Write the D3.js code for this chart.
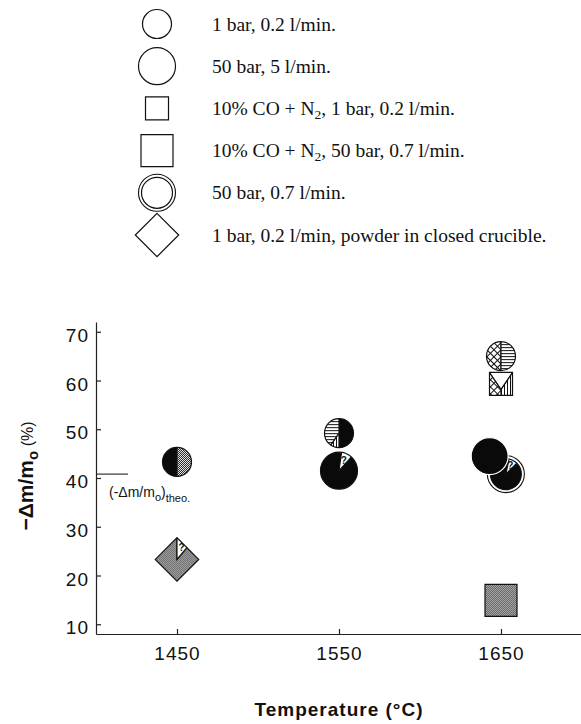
<!DOCTYPE html>
<html>
<head>
<meta charset="utf-8">
<title>Mass loss vs temperature</title>
<script src="https://d3js.org/d3.v7.min.js"></script>
<style>
  body { margin: 0; background: #fff; }
  text { font-family: "Liberation Sans", Arial, sans-serif; fill: #111; }
  .serif { font-family: "Liberation Serif", "Times New Roman", serif; }
</style>
</head>
<body>
<div id="chart"></div>
<script>

// legend (experimental conditions)
var legendLabels = [
  "1 bar, 0.2 l/min.",
  "50 bar, 5 l/min.",
  "10% CO + N|2|, 1 bar, 0.2 l/min.",
  "10% CO + N|2|, 50 bar, 0.7 l/min.",
  "50 bar, 0.7 l/min.",
  "1 bar, 0.2 l/min, powder in closed crucible."
];
var legendShapes = ["circle", "bigcircle", "square", "bigsquare", "ring", "diamond"];

var pointTemp   = [1450, 1450, 1550, 1550, 1650, 1650, 1653, 1643, 1650];
var pointValue  = [43.3, 23.3, 49.2, 41.5, 65.0, 59.3, 40.8, 44.5, 14.9];
var pointSeries = [0, 5, 0, 1, 0, 2, 4, 1, 3];

// theoretical mass loss
var theoValue = 40.8;

// axis ticks
var xTicks = [1450, 1550, 1650];
var yTicks = [10, 20, 30, 40, 50, 60, 70];

// how each symbol is filled (sectors in degrees, clockwise from top)
var pointFills = [
  {parts: [{a: [180, 360], f: "black"}, {a: [0, 180], f: "stipple"}]},
  {parts: [{a: [40, 360], f: "stipple"}, {a: [0, 40], f: "white", q: true}]},
  {parts: [{a: [0, 180], f: "black"}, {a: [180, 215], f: "vlines"}, {a: [215, 360], f: "hlines"}]},
  {parts: [{a: [42, 368], f: "black"}, {a: [8, 42], f: "white", q: true}]},
  {parts: [{a: [180, 360], f: "xhatch"}, {a: [0, 180], f: "hlines"}]},
  {oy: 0.5, parts: [{a: [-34, 34], f: "white"}, {a: [34, 180], f: "vlines"}, {a: [180, 326], f: "xhatch"}]},
  {parts: [{a: [45, 375], f: "black"}, {a: [12, 45], f: "white", q: true}]},
  {parts: [{a: [0, 360], f: "black"}], edge: "#fff"},
  {parts: [{a: [0, 360], f: "stipple"}]}
];

var shapeSize = {circle: 14.5, bigcircle: 18.5, square: 11.5, bigsquare: 16, ring: 18.5, diamond: 21.7};

var w = 581, h = 724;
var margin = {left: 96, right: 0, top: 322, bottom: 90};

var svg = d3.select("#chart").append("svg")
    .attr("width", w)
    .attr("height", h);

var defs = svg.append("defs");

// fill patterns
var stip = defs.append("pattern").attr("id", "stipple")
    .attr("patternUnits", "userSpaceOnUse").attr("width", 2).attr("height", 2);
stip.append("rect").attr("width", 2).attr("height", 2).attr("fill", "#f4f4f4");
stip.append("rect").attr("width", 1).attr("height", 1).attr("fill", "#1a1a1a");
stip.append("rect").attr("x", 1).attr("y", 1).attr("width", 1).attr("height", 1).attr("fill", "#1a1a1a");

var hl = defs.append("pattern").attr("id", "hlines")
    .attr("patternUnits", "userSpaceOnUse").attr("width", 3).attr("height", 3);
hl.append("rect").attr("width", 3).attr("height", 3).attr("fill", "#fff");
hl.append("rect").attr("width", 3).attr("height", 1).attr("fill", "#111");

var vl = defs.append("pattern").attr("id", "vlines")
    .attr("patternUnits", "userSpaceOnUse").attr("width", 3).attr("height", 3);
vl.append("rect").attr("width", 3).attr("height", 3).attr("fill", "#fff");
vl.append("rect").attr("width", 1).attr("height", 3).attr("fill", "#111");

var xh = defs.append("pattern").attr("id", "xhatch")
    .attr("patternUnits", "userSpaceOnUse").attr("width", 5).attr("height", 5)
    .attr("patternTransform", "rotate(45)");
xh.append("rect").attr("width", 5).attr("height", 5).attr("fill", "#fff");
xh.append("rect").attr("width", 5).attr("height", 1).attr("fill", "#111");
xh.append("rect").attr("width", 1).attr("height", 5).attr("fill", "#111");

function fillOf(f) {
  if (f == "black") return "#0a0a0a";
  if (f == "white") return "#fff";
  return "url(#" + f + ")";
}

function shapePath(type, s) {
  if (type == "square" || type == "bigsquare")
    return "M" + (-s) + "," + (-s) + "H" + s + "V" + s + "H" + (-s) + "Z";
  if (type == "diamond")
    return "M0," + (-s) + "L" + s + ",0L0," + s + "L" + (-s) + ",0Z";
  return "M" + s + ",0A" + s + "," + s + " 0 1,1 " + (-s) + ",0A" + s + "," + s + " 0 1,1 " + s + ",0Z";
}

var clipId = 0;
function drawMarker(g, type, fill) {
  var s = shapeSize[type];
  var inner = s;
  if (type == "ring") {
    g.append("path").attr("d", shapePath("circle", s))
      .attr("fill", "#fff").attr("stroke", "#111").attr("stroke-width", 1.1);
    inner = s - 3;
  }
  var body = type == "ring" ? "circle" : type;
  if (fill) {
    var id = "clip" + (clipId++);
    defs.append("clipPath").attr("id", id)
      .append("path").attr("d", shapePath(body, inner));
    var cg = g.append("g").attr("clip-path", "url(#" + id + ")");
    var oy = (fill.oy || 0) * inner;
    fill.parts.forEach(function(p) {
      var arc = d3.arc().innerRadius(0).outerRadius(inner * 3)
        .startAngle(p.a[0] * Math.PI / 180).endAngle(p.a[1] * Math.PI / 180);
      cg.append("path").attr("d", arc())
        .attr("transform", "translate(0," + oy + ")")
        .attr("fill", fillOf(p.f))
        .attr("stroke", p.a[1] - p.a[0] >= 360 ? "none" : "#111")
        .attr("stroke-width", 1.2);
      if (p.q) {
        var mid = (p.a[0] + p.a[1]) / 2 * Math.PI / 180;
        cg.append("text")
          .attr("x", Math.sin(mid) * inner * 0.6)
          .attr("y", -Math.cos(mid) * inner * 0.6 + oy)
          .attr("dy", "0.35em")
          .attr("text-anchor", "middle")
          .style("font-size", "10px")
          .style("font-weight", "bold")
          .text("?");
      }
    });
  }
  g.append("path").attr("d", shapePath(body, inner))
    .attr("fill", fill ? "none" : "#fff")
    .attr("stroke", fill && fill.edge ? fill.edge : "#111")
    .attr("stroke-width", 1.2);
}

// ---- legend ----
var legendY = d3.scaleLinear().domain([0, 5]).range([24, 235]);

legendLabels.forEach(function(label, i) {
  var g = svg.append("g").attr("transform", "translate(157," + legendY(i) + ")");
  drawMarker(g, legendShapes[i], null);
  var t = svg.append("text").attr("class", "serif")
    .attr("x", 212).attr("y", legendY(i) + 6.5)
    .style("font-size", "19.5px");
  label.split("|").forEach(function(piece, k) {
    var ts = t.append("tspan").text(piece);
    if (k % 2 == 1) ts.attr("dy", 4).style("font-size", "13.5px");
    else if (k > 0) ts.attr("dy", -4);
  });
});

// ---- chart ----
var x = d3.scaleLinear()
    .domain([1400, 1700])
    .range([margin.left, w - margin.right + 1]);

var y = d3.scaleLinear()
    .domain([8, 72])
    .range([h - margin.bottom, margin.top]);

var xAxis = d3.axisBottom(x)
    .tickValues(xTicks)
    .tickSizeInner(-5)
    .tickSizeOuter(0)
    .tickPadding(13)
    .tickFormat(d3.format("d"));

var yAxis = d3.axisLeft(y)
    .tickValues(yTicks)
    .tickSizeInner(-5)
    .tickSizeOuter(0)
    .tickPadding(7);

var gx = svg.append("g")
    .attr("transform", "translate(0," + (h - margin.bottom) + ")")
    .call(xAxis);

var gy = svg.append("g")
    .attr("transform", "translate(" + margin.left + ",0)")
    .call(yAxis);

[gx, gy].forEach(function(a) {
  a.selectAll("path, line").attr("stroke", "#222").attr("stroke-width", 1.2);
  a.selectAll("text").style("font-size", "19px")
    .style("letter-spacing", "1px")
    .style("font-family", "'Liberation Sans', Arial, sans-serif").attr("fill", "#111");
});
gy.selectAll("text").attr("dy", "0.5em");

// theoretical value marker
svg.append("line")
  .attr("x1", margin.left).attr("x2", margin.left + 32)
  .attr("y1", y(theoValue)).attr("y2", y(theoValue))
  .attr("stroke", "#222").attr("stroke-width", 1.1);

var theo = svg.append("text")
  .attr("x", margin.left + 13).attr("y", y(theoValue) + 23)
  .style("font-size", "14px");
theo.append("tspan").text("(-\u0394m/m");
theo.append("tspan").text("o").attr("dy", 4).style("font-size", "11px");
theo.append("tspan").text(")").attr("dy", -4);
theo.append("tspan").text("theo.").attr("dy", 5).style("font-size", "11px");

// points
pointTemp.forEach(function(t, i) {
  var g = svg.append("g")
    .attr("transform", "translate(" + x(t) + "," + y(pointValue[i]) + ")");
  drawMarker(g, legendShapes[pointSeries[i]], pointFills[i]);
});

// axis titles
svg.append("text")
  .attr("x", x(1550)).attr("y", 716)
  .attr("text-anchor", "middle")
  .style("font-size", "19px").style("font-weight", "bold")
  .style("letter-spacing", "1px")
  .text("Temperature (\u00b0C)");

var yt = svg.append("text")
  .attr("transform", "translate(33," + 476 + ") rotate(-90)")
  .attr("text-anchor", "middle")
  .style("font-weight", "bold");
yt.append("tspan").text("\u2212\u0394m/m").style("font-size", "21px");
yt.append("tspan").text("o").attr("dy", 5).style("font-size", "15px");
yt.append("tspan").text(" (%)").attr("dy", -5).style("font-size", "16px").style("font-weight", "normal");

</script>
</body>
</html>
